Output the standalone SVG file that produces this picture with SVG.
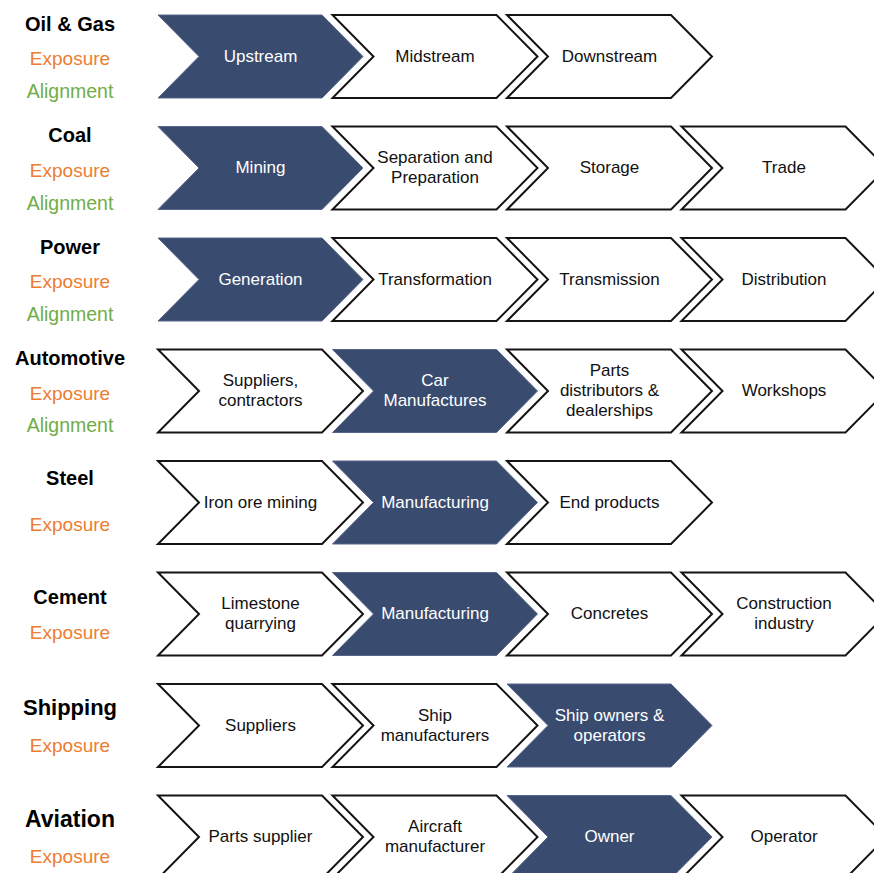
<svg xmlns="http://www.w3.org/2000/svg" xmlns:xlink="http://www.w3.org/1999/xlink" width="874" height="873" viewBox="0 0 874 873">
<defs>
<path id="chev" d="M0,0 H164 L205,41.5 L164,83 H0 L41,41.5 Z"/>
</defs>
<style>
.w{fill:#ffffff;stroke:#141414;stroke-width:2;stroke-linejoin:miter}
.d{fill:#394b6f;stroke:#56668a;stroke-width:1}
.t{font-family:"Liberation Sans",Arial,sans-serif;font-size:17px;text-anchor:middle;fill:#111}
.td{font-family:"Liberation Sans",Arial,sans-serif;font-size:17px;text-anchor:middle;fill:#ffffff}
.h{font-family:"Liberation Sans",Arial,sans-serif;font-size:20px;font-weight:bold;text-anchor:middle;fill:#000}
.ex{font-family:"Liberation Sans",Arial,sans-serif;font-size:19px;text-anchor:middle;fill:#ed7d31}
.al{font-family:"Liberation Sans",Arial,sans-serif;font-size:19.5px;text-anchor:middle;fill:#70ad47}
</style>
<rect width="874" height="873" fill="#ffffff"/>
<g id="connectors"></g>

<!-- Row 1 -->
<g id="label-oilgas"><text class="h" x="70" y="31">Oil &amp; Gas</text><text class="ex" x="70" y="65">Exposure</text><text class="al" x="70" y="98">Alignment</text></g>
<g id="oil-upstream"><use xlink:href="#chev" href="#chev" class="d" x="158" y="15"/><text class="td" x="260.5" y="61.5">Upstream</text></g>
<g id="oil-midstream"><use xlink:href="#chev" href="#chev" class="w" x="332.5" y="15"/><text class="t" x="435" y="61.5">Midstream</text></g>
<g id="oil-downstream"><use xlink:href="#chev" href="#chev" class="w" x="507" y="15"/><text class="t" x="609.5" y="61.5">Downstream</text></g>

<!-- Row 2 -->
<g id="label-coal"><text class="h" x="70" y="142">Coal</text><text class="ex" x="70" y="176.5">Exposure</text><text class="al" x="70" y="209.5">Alignment</text></g>
<g id="coal-mining"><use xlink:href="#chev" href="#chev" class="d" x="158" y="126.5"/><text class="td" x="260.5" y="173">Mining</text></g>
<g id="coal-separation"><use xlink:href="#chev" href="#chev" class="w" x="332.5" y="126.5"/><text class="t" x="435" y="163">Separation and</text><text class="t" x="435" y="183">Preparation</text></g>
<g id="coal-storage"><use xlink:href="#chev" href="#chev" class="w" x="507" y="126.5"/><text class="t" x="609.5" y="173">Storage</text></g>
<g id="coal-trade"><use xlink:href="#chev" href="#chev" class="w" x="681.5" y="126.5"/><text class="t" x="784" y="173">Trade</text></g>

<!-- Row 3 -->
<g id="label-power"><text class="h" x="70" y="253.5">Power</text><text class="ex" x="70" y="288">Exposure</text><text class="al" x="70" y="321">Alignment</text></g>
<g id="power-generation"><use xlink:href="#chev" href="#chev" class="d" x="158" y="238"/><text class="td" x="260.5" y="284.5">Generation</text></g>
<g id="power-transformation"><use xlink:href="#chev" href="#chev" class="w" x="332.5" y="238"/><text class="t" x="435" y="284.5">Transformation</text></g>
<g id="power-transmission"><use xlink:href="#chev" href="#chev" class="w" x="507" y="238"/><text class="t" x="609.5" y="284.5">Transmission</text></g>
<g id="power-distribution"><use xlink:href="#chev" href="#chev" class="w" x="681.5" y="238"/><text class="t" x="784" y="284.5">Distribution</text></g>

<!-- Row 4 -->
<g id="label-automotive"><text class="h" x="70" y="365">Automotive</text><text class="ex" x="70" y="400">Exposure</text><text class="al" x="70" y="432">Alignment</text></g>
<g id="auto-suppliers"><use xlink:href="#chev" href="#chev" class="w" x="158" y="349.5"/><text class="t" x="260.5" y="386">Suppliers,</text><text class="t" x="260.5" y="406">contractors</text></g>
<g id="auto-car"><use xlink:href="#chev" href="#chev" class="d" x="332.5" y="349.5"/><text class="td" x="435" y="386">Car</text><text class="td" x="435" y="406">Manufactures</text></g>
<g id="auto-parts"><use xlink:href="#chev" href="#chev" class="w" x="507" y="349.5"/><text class="t" x="609.5" y="376">Parts</text><text class="t" x="609.5" y="396">distributors &amp;</text><text class="t" x="609.5" y="416">dealerships</text></g>
<g id="auto-workshops"><use xlink:href="#chev" href="#chev" class="w" x="681.5" y="349.5"/><text class="t" x="784" y="396">Workshops</text></g>

<!-- Row 5 -->
<g id="label-steel"><text class="h" x="70" y="485">Steel</text><text class="ex" x="70" y="530.5">Exposure</text></g>
<g id="steel-iron"><use xlink:href="#chev" href="#chev" class="w" x="158" y="461"/><text class="t" x="260.5" y="507.5">Iron ore mining</text></g>
<g id="steel-manufacturing"><use xlink:href="#chev" href="#chev" class="d" x="332.5" y="461"/><text class="td" x="435" y="507.5">Manufacturing</text></g>
<g id="steel-end"><use xlink:href="#chev" href="#chev" class="w" x="507" y="461"/><text class="t" x="609.5" y="507.5">End products</text></g>

<!-- Row 6 -->
<g id="label-cement"><text class="h" x="70" y="603.5">Cement</text><text class="ex" x="70" y="639">Exposure</text></g>
<g id="cement-limestone"><use xlink:href="#chev" href="#chev" class="w" x="158" y="572.5"/><text class="t" x="260.5" y="609">Limestone</text><text class="t" x="260.5" y="629">quarrying</text></g>
<g id="cement-manufacturing"><use xlink:href="#chev" href="#chev" class="d" x="332.5" y="572.5"/><text class="td" x="435" y="619">Manufacturing</text></g>
<g id="cement-concretes"><use xlink:href="#chev" href="#chev" class="w" x="507" y="572.5"/><text class="t" x="609.5" y="619">Concretes</text></g>
<g id="cement-construction"><use xlink:href="#chev" href="#chev" class="w" x="681.5" y="572.5"/><text class="t" x="784" y="609">Construction</text><text class="t" x="784" y="629">industry</text></g>

<!-- Row 7 -->
<g id="label-shipping"><text class="h" x="70" y="715" style="font-size:22px">Shipping</text><text class="ex" x="70" y="751.5">Exposure</text></g>
<g id="ship-suppliers"><use xlink:href="#chev" href="#chev" class="w" x="158" y="684"/><text class="t" x="260.5" y="730.5">Suppliers</text></g>
<g id="ship-manufacturers"><use xlink:href="#chev" href="#chev" class="w" x="332.5" y="684"/><text class="t" x="435" y="720.5">Ship</text><text class="t" x="435" y="740.5">manufacturers</text></g>
<g id="ship-owners"><use xlink:href="#chev" href="#chev" class="d" x="507" y="684"/><text class="td" x="609.5" y="720.5">Ship owners &amp;</text><text class="td" x="609.5" y="740.5">operators</text></g>

<!-- Row 8 -->
<g id="label-aviation"><text class="h" x="70" y="827" style="font-size:23px">Aviation</text><text class="ex" x="70" y="863">Exposure</text></g>
<g id="avi-parts"><use xlink:href="#chev" href="#chev" class="w" x="158" y="795.5"/><text class="t" x="260.5" y="842">Parts supplier</text></g>
<g id="avi-aircraft"><use xlink:href="#chev" href="#chev" class="w" x="332.5" y="795.5"/><text class="t" x="435" y="832">Aircraft</text><text class="t" x="435" y="852">manufacturer</text></g>
<g id="avi-owner"><use xlink:href="#chev" href="#chev" class="d" x="507" y="795.5"/><text class="td" x="609.5" y="842">Owner</text></g>
<g id="avi-operator"><use xlink:href="#chev" href="#chev" class="w" x="681.5" y="795.5"/><text class="t" x="784" y="842">Operator</text></g>
</svg>
